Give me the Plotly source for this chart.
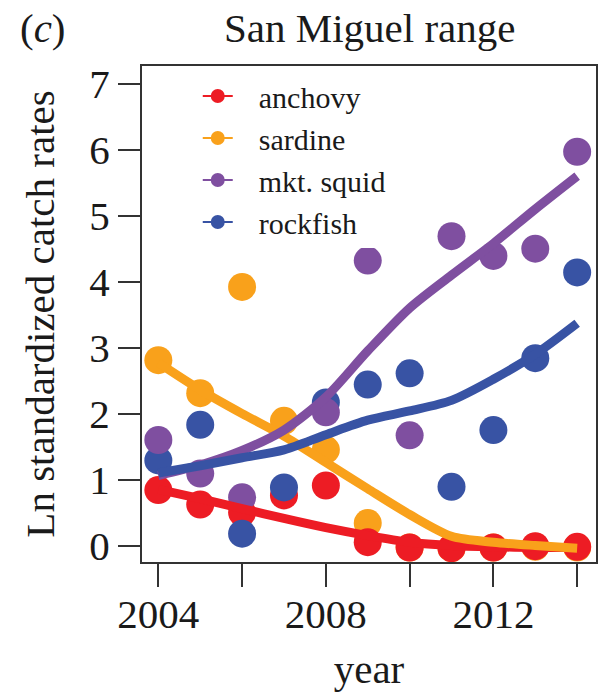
import plotly.graph_objects as go

years = [2004, 2005, 2006, 2007, 2008, 2009, 2010, 2011, 2012, 2013, 2014]

anchovy_pts = [0.84, 0.62, 0.50, 0.76, 0.91, 0.05, -0.03, -0.04, -0.03, -0.01, -0.02]
anchovy_fit = [0.85, 0.71, 0.56, 0.41, 0.27, 0.15, 0.05, 0.00, -0.02, -0.03, -0.03]

sardine_pts = [2.81, 2.31, 3.92, 1.89, 1.45, 0.34, -0.03, -0.04, -0.03, -0.02, -0.03]
sardine_fit = [2.77, 2.36, 2.00, 1.66, 1.26, 0.86, 0.47, 0.14, 0.05, 0.00, -0.04]

squid_pts = [1.60, 1.09, 0.73, None, 2.02, 4.32, 1.67, 4.69, 4.39, 4.50, 5.97]
squid_fit = [1.06, 1.22, 1.44, 1.75, 2.25, 2.95, 3.60, 4.10, 4.58, 5.10, 5.60]

rockfish_pts = [1.29, 1.83, 0.18, 0.88, 2.17, 2.44, 2.61, 0.89, 1.75, 2.84, 4.14]
rockfish_fit = [1.10, 1.21, 1.33, 1.45, 1.68, 1.90, 2.04, 2.20, 2.52, 2.90, 3.37]

species = ["anchovy", "sardine", "mkt. squid", "rockfish"]
colors = {"anchovy": "#ED1C24", "sardine": "#F9A11B",
          "mkt. squid": "#7F4FA0", "rockfish": "#3853A4"}
pts = {"anchovy": anchovy_pts, "sardine": sardine_pts,
       "mkt. squid": squid_pts, "rockfish": rockfish_pts}
fits = {"anchovy": anchovy_fit, "sardine": sardine_fit,
        "mkt. squid": squid_fit, "rockfish": rockfish_fit}

x_tickvals = [2004, 2006, 2008, 2010, 2012, 2014]
x_ticktext = ["2004", "", "2008", "", "2012", ""]
y_tickvals = [0, 1, 2, 3, 4, 5, 6, 7]

FONT = "Liberation Serif, Times New Roman, serif"
TXT = "#1a1a1a"
FS = 41

fig = go.Figure()

# points
for sp in ["sardine", "anchovy", "rockfish", "mkt. squid"]:
    fig.add_trace(go.Scatter(x=years, y=pts[sp], mode="markers",
                             marker=dict(size=28, color=colors[sp]),
                             showlegend=False, hoverinfo="skip"))
# fitted lines
for sp in ["anchovy", "sardine", "mkt. squid", "rockfish"]:
    fig.add_trace(go.Scatter(x=years, y=fits[sp], mode="lines",
                             line=dict(width=9, color=colors[sp],
                                       shape="spline", smoothing=0.8),
                             showlegend=False, hoverinfo="skip"))
# legend entries
for sp in species:
    fig.add_trace(go.Scatter(x=[None], y=[None], mode="lines+markers",
                             name="\u2002\u2009" + sp,
                             line=dict(width=2, color=colors[sp]),
                             marker=dict(size=14, color=colors[sp])))

M_L, M_R, M_T, M_B = 142, 4, 66, 135
H_PLOT = 697 - M_T - M_B
W_PLOT = 602 - M_L - M_R

fig.update_layout(
    width=602, height=697,
    margin=dict(l=M_L, r=M_R, t=M_T, b=M_B),
    paper_bgcolor="white", plot_bgcolor="white",
    font=dict(family=FONT, size=FS, color=TXT),
    showlegend=True,
    legend=dict(x=(198 - M_L) / W_PLOT, y=1 - (70 - M_T) / H_PLOT,
                xanchor="left", yanchor="top",
                bgcolor="white", font=dict(size=30, color=TXT),
                tracegroupgap=0, itemwidth=30),
    xaxis=dict(range=[2003.61, 2014.45], tickvals=x_tickvals, ticktext=x_ticktext,
               showgrid=False, zeroline=False, showline=True, mirror=True,
               linecolor="#333", linewidth=2, ticks="outside", ticklen=23,
               tickwidth=2, tickcolor="#333", ticklabelstandoff=-8,
               title=dict(text="year", standoff=18, font=dict(size=FS))),
    yaxis=dict(range=[-0.25, 7.27], tickvals=y_tickvals,
               showgrid=False, zeroline=False, showline=True, mirror=True,
               linecolor="#333", linewidth=2, ticks="outside", ticklen=22,
               tickwidth=2, tickcolor="#333",
               title=dict(text="Ln standardized catch rates", standoff=22,
                          font=dict(size=FS))),
    annotations=[
        dict(text="San Miguel range", x=0.5, y=1 + (M_T - 28) / H_PLOT,
             xref="paper", yref="paper", yanchor="middle",
             showarrow=False, font=dict(size=FS)),
        dict(text="(<i>c</i>)", x=(43 - M_L) / W_PLOT, y=1 + (M_T - 28) / H_PLOT,
             xref="paper", yref="paper", xanchor="center", yanchor="middle",
             showarrow=False, font=dict(size=FS)),
    ],
)

fig.write_html("out.html")
